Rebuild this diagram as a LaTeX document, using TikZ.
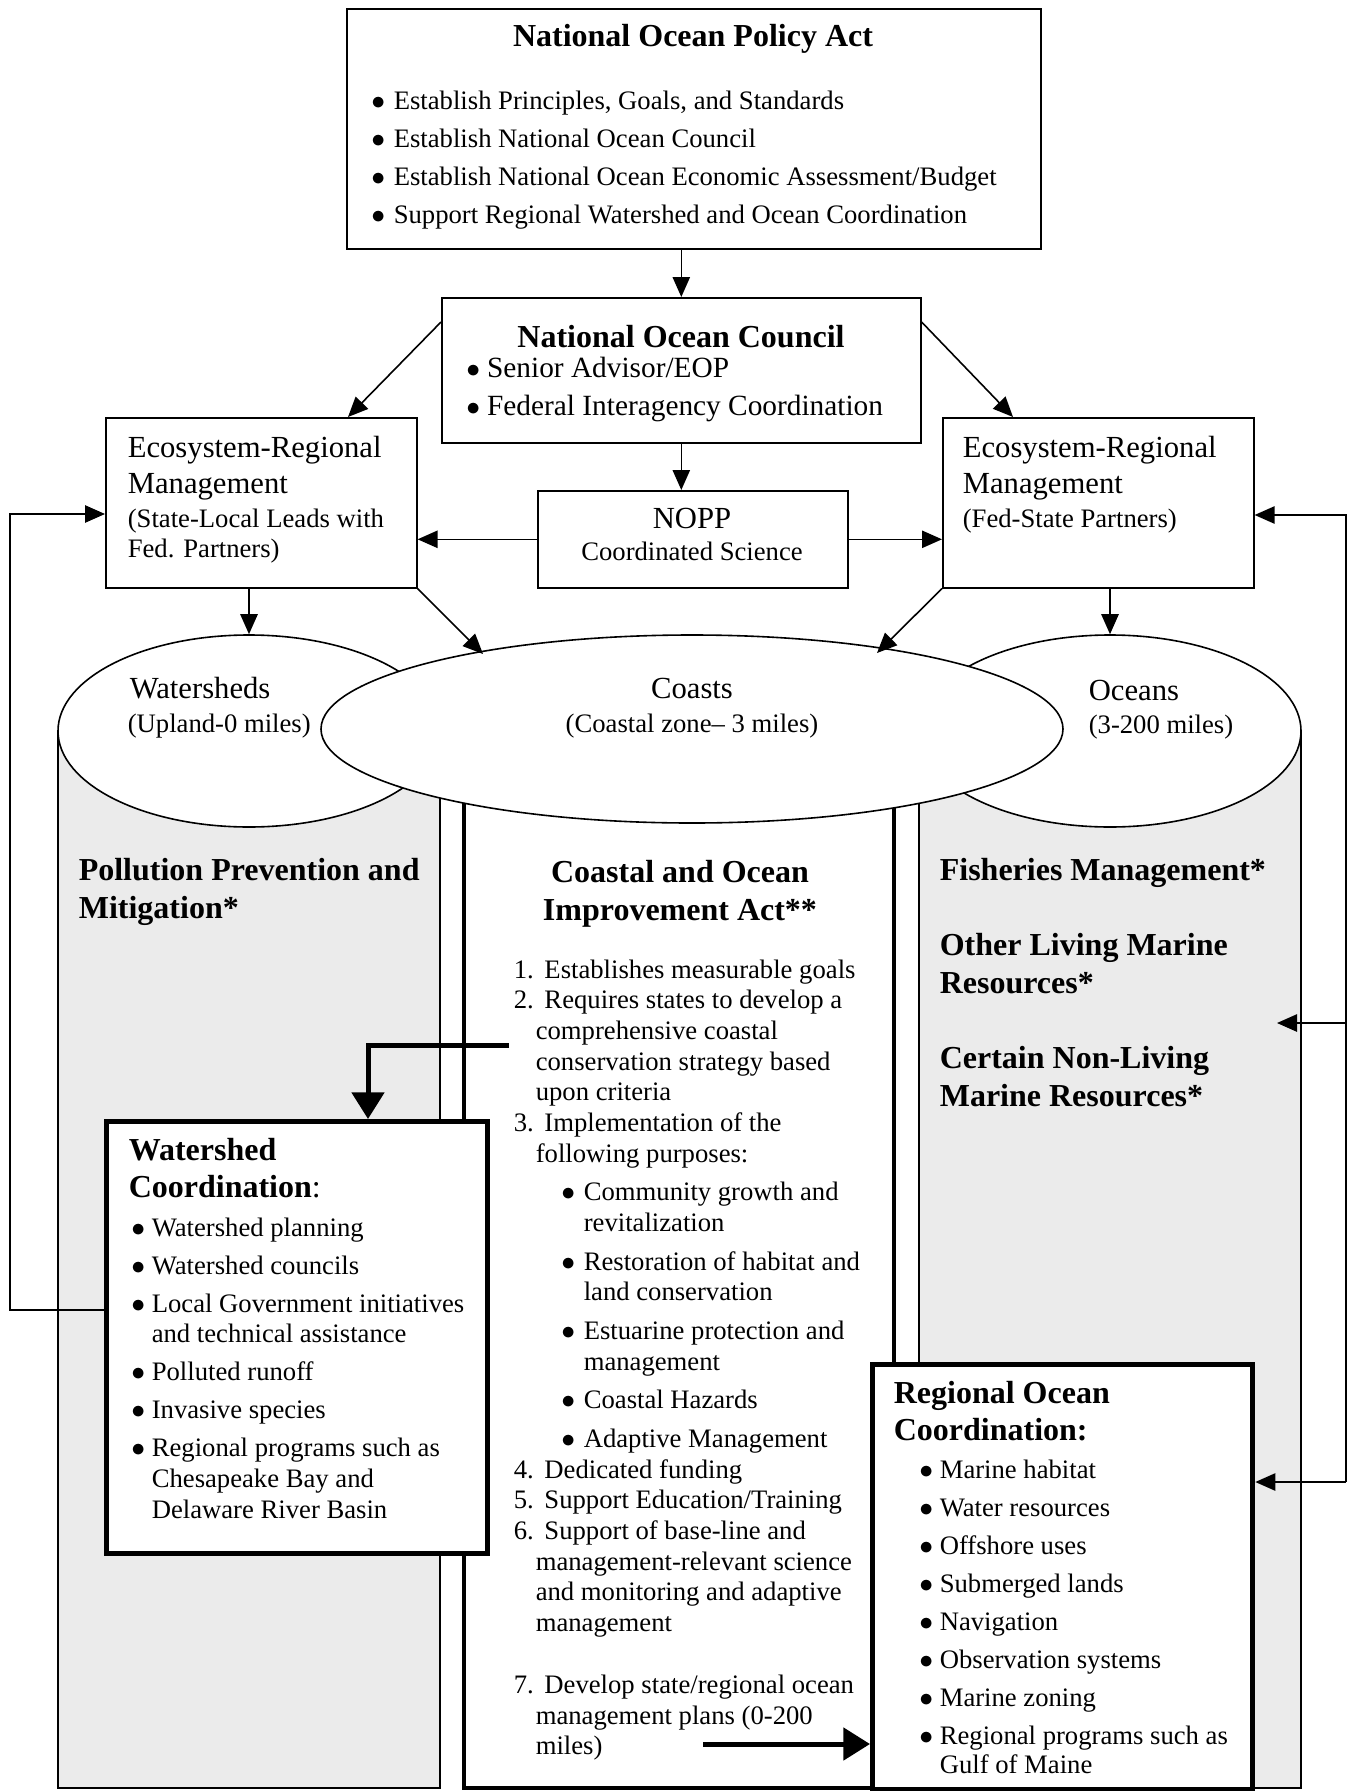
\documentclass[tikz,border=0pt]{standalone}
\usepackage{fontspec}
\setmainfont{Liberation Serif}
\usetikzlibrary{shapes.geometric,arrows.meta,calc}

\tikzset{every picture/.style={line width=1.2pt}}
\def\unitpx{0.75pt}
\newcommand{\bul}[1]{\makebox[#1][l]{\kern-2.5pt$\bullet$}}
\newcommand{\itemno}[1]{\makebox[18pt][l]{#1}\ }
\newcommand{\lines}[1]{\begin{tabular}[t]{@{}l@{}}#1\end{tabular}}
\newcommand{\clines}[1]{\begin{tabular}[t]{@{}c@{}}#1\end{tabular}}
\tikzset{
  box/.style={draw, fill=white, rectangle, inner sep=0pt, anchor=north west},
  heavybox/.style={box, line width=4pt},
  zone/.style={draw, fill=white, ellipse, inner sep=0pt},
  txt/.style={inner sep=0pt, anchor=base west, font=\fontsize{20}{23}\selectfont},
  bigtxt/.style={txt, font=\fontsize{23}{27}\selectfont},
  headtxt/.style={txt, font=\bfseries\fontsize{24}{28.5}\selectfont},
  arr/.style={-{Triangle[length=15pt,width=13pt]}},
  heavyarr/.style={line width=3.75pt, -{Triangle[length=20pt,width=24pt]}},
}

\begin{document}
\begin{tikzpicture}[x=0.75pt,y=0.75pt,yscale=-1,xscale=1]
\useasboundingbox (0,0) rectangle (1349,1791);

%Shape: Cylinder bodies (Watersheds, Oceans) and Coasts column
\draw [fill=black!8] (58,731) rectangle (440,1788) ;
\draw [fill=black!8] (919,731) rectangle (1301,1788) ;
\draw [line width=3.5pt, fill=white] (464,729) rectangle (894,1788) ;

%Shape: Ellipse
\node (ws) at (249,731) [zone, minimum width=382*\unitpx, minimum height=192*\unitpx] {} ;
\node (oc) at (1110,731) [zone, minimum width=382*\unitpx, minimum height=192*\unitpx] {} ;
\node (cs) at (692,729) [zone, minimum width=742*\unitpx, minimum height=188*\unitpx] {} ;

%Shape: Rectangle
\node (npa) at (346,8) [box, minimum width=694*\unitpx, minimum height=240*\unitpx] {} ;
\node (noc) at (441,297) [box, minimum width=479*\unitpx, minimum height=145*\unitpx] {} ;
\node (ermL) at (105,417) [box, minimum width=311*\unitpx, minimum height=170*\unitpx] {} ;
\node (nopp) at (537,490) [box, minimum width=310*\unitpx, minimum height=97*\unitpx] {} ;
\node (ermR) at (942,417) [box, minimum width=311*\unitpx, minimum height=170*\unitpx] {} ;
\node (wc) at (104,1119) [heavybox, minimum width=381*\unitpx, minimum height=432*\unitpx] {} ;
\node (roc) at (870,1362) [heavybox, minimum width=380*\unitpx, minimum height=425*\unitpx] {} ;

% Text Node
\node (npaT) at (693,47) [headtxt, anchor=base] {National Ocean Policy Act} ;
% Text Node
\node (npaL) at (374,110) [txt, font=\fontsize{20}{28.5}\selectfont] {\lines{\bul{14.25pt}Establish Principles, Goals, and Standards\\\bul{14.25pt}Establish National Ocean Council\\\bul{14.25pt}Establish National Ocean Economic Assessment/Budget\\\bul{14.25pt}Support Regional Watershed and Ocean Coordination}} ;
% Text Node
\node (nocT) at (681,347) [headtxt, anchor=base] {National Ocean Council} ;
% Text Node
\node (nocL) at (469,377) [txt, font=\fontsize{22}{28.5}\selectfont] {\lines{\bul{13pt}Senior Advisor/EOP\\\bul{13pt}Federal Interagency Coordination}} ;
% Text Node
\node (ermLT) at (127,457) [bigtxt] {\lines{Ecosystem-Regional\\Management}} ;
\node (ermLS) at (127,527) [txt] {\lines{(State-Local Leads with\\Fed. Partners)}} ;
% Text Node
\node (ermRT) at (962,457) [bigtxt] {\lines{Ecosystem-Regional\\Management}} ;
\node (ermRS) at (962,527) [txt] {(Fed-State Partners)} ;
% Text Node
\node (noppT) at (692,528) [bigtxt, anchor=base] {NOPP} ;
\node (noppS) at (692,560) [txt, anchor=base] {Coordinated Science} ;

% Text Node
\node (wsT) at (129,698) [bigtxt] {Watersheds} ;
\node (wsS) at (127,732) [txt] {(Upland-0 miles)} ;
\node (csT) at (692,698) [bigtxt, anchor=base] {Coasts} ;
\node (csS) at (692,732) [txt, anchor=base] {(Coastal zone-- 3 miles)} ;
\node (ocT) at (1088,700) [bigtxt] {Oceans} ;
\node (ocS) at (1088,733) [txt] {(3-200 miles)} ;

% Text Node
\node (wsH) at (78,880) [headtxt] {\lines{Pollution Prevention and\\Mitigation*}} ;
\node (csH) at (680,882) [headtxt, anchor=base] {\clines{Coastal and Ocean\\Improvement Act**}} ;
\node (ocH1) at (939,880) [headtxt] {Fisheries Management*} ;
\node (ocH2) at (939,955) [headtxt] {\lines{Other Living Marine\\Resources*}} ;
\node (ocH3) at (939,1068) [headtxt] {\lines{Certain Non-Living\\Marine Resources*}} ;

% Text Node
\node (csL) at (513,978) [txt] {\lines{\itemno{1.}Establishes measurable goals\\
\itemno{2.}Requires states to develop a\\
\hspace*{16.5pt}comprehensive coastal\\
\hspace*{16.5pt}conservation strategy based\\
\hspace*{16.5pt}upon criteria\\
\itemno{3.}Implementation of the\\
\hspace*{16.5pt}following purposes:\\[6pt]
\hspace*{38.25pt}\bul{14.25pt}Community growth and\\
\hspace*{52.5pt}revitalization\\[6pt]
\hspace*{38.25pt}\bul{14.25pt}Restoration of habitat and\\
\hspace*{52.5pt}land conservation\\[6pt]
\hspace*{38.25pt}\bul{14.25pt}Estuarine protection and\\
\hspace*{52.5pt}management\\[6pt]
\hspace*{38.25pt}\bul{14.25pt}Coastal Hazards\\[6pt]
\hspace*{38.25pt}\bul{14.25pt}Adaptive Management\\
\itemno{4.}Dedicated funding\\
\itemno{5.}Support Education/Training\\
\itemno{6.}Support of base-line and\\
\hspace*{16.5pt}management-relevant science\\
\hspace*{16.5pt}and monitoring and adaptive\\
\hspace*{16.5pt}management\\[23.5pt]
\itemno{7.}Develop state/regional ocean\\
\hspace*{16.5pt}management plans (0-200\\
\hspace*{16.5pt}miles)}} ;

% Text Node
\node (wcT) at (128,1160) [headtxt, font=\bfseries\fontsize{24}{27.75}\selectfont] {\lines{Watershed\\Coordination{\mdseries :}}} ;
\node (wcL) at (134,1236) [txt] {\lines{\bul{12.75pt}Watershed planning\\[5.5pt]
\bul{12.75pt}Watershed councils\\[5.5pt]
\bul{12.75pt}Local Government initiatives\\
\hspace*{12.75pt}and technical assistance\\[5.5pt]
\bul{12.75pt}Polluted runoff\\[5.5pt]
\bul{12.75pt}Invasive species\\[5.5pt]
\bul{12.75pt}Regional programs such as\\
\hspace*{12.75pt}Chesapeake Bay and\\
\hspace*{12.75pt}Delaware River Basin}} ;

% Text Node
\node (rocT) at (893,1403) [headtxt, font=\bfseries\fontsize{24}{27.75}\selectfont] {\lines{Regional Ocean\\Coordination:}} ;
\node (rocL) at (922,1478) [txt, font=\fontsize{20}{22}\selectfont] {\lines{\bul{12.75pt}Marine habitat\\[6.5pt]
\bul{12.75pt}Water resources\\[6.5pt]
\bul{12.75pt}Offshore uses\\[6.5pt]
\bul{12.75pt}Submerged lands\\[6.5pt]
\bul{12.75pt}Navigation\\[6.5pt]
\bul{12.75pt}Observation systems\\[6.5pt]
\bul{12.75pt}Marine zoning\\[6.5pt]
\bul{12.75pt}Regional programs such as\\
\hspace*{12.75pt}Gulf of Maine}} ;

%Straight Lines
\coordinate (csInL) at (483,654) ;
\coordinate (csInR) at (877,653) ;
\draw [arr] (noc.north |- npa.south) -- (noc.north) ;
\draw [arr] (noc.south) -- (noc.south |- nopp.north) ;
\draw [arr] ($(noc.north west)+(0,25)$) -- ($(ermL.north west)+(243,0)$) ;
\draw [arr] ($(noc.north east)+(0,25)$) -- ($(ermR.north west)+(71,0)$) ;
\draw [arr] (nopp.west) -- (nopp.west -| ermL.east) ;
\draw [arr] (nopp.east) -- (nopp.east -| ermR.west) ;
\draw [arr] (ws.north |- ermL.south) -- (ws.north) ;
\draw [arr] (oc.north |- ermR.south) -- (oc.north) ;
\draw [arr] (ermL.south east) -- (csInL) ;
\draw [arr] (ermR.south west) -- (csInR) ;

%Feedback lines
\coordinate (fbL) at (10,1310) ;
\coordinate (fbLtop) at (10,514) ;
\draw [arr] (wc.west |- fbL) -- (fbL) -- (fbLtop) -- (fbLtop -| ermL.west) ;
\coordinate (fbR) at (1346,515) ;
\coordinate (fbRbot) at (1346,1482) ;
\coordinate (fbRmid) at (1346,1023) ;
\coordinate (ocIn) at (1277,1023) ;
\draw [arr] (fbRbot) -- (fbR) -- (fbR -| ermR.east) ;
\draw [arr] (fbRbot) -- (fbRbot -| roc.east) ;
\draw [arr] (fbRmid) -- (ocIn) ;

%Heavy arrows
\coordinate (c2) at (509,1045) ;
\draw [heavyarr] (c2) -| ($(wc.north west)+(264,0)$) ;
\coordinate (c7) at (703,1744) ;
\draw [heavyarr] (c7) -- (c7 -| roc.west) ;

\end{tikzpicture}
\end{document}
